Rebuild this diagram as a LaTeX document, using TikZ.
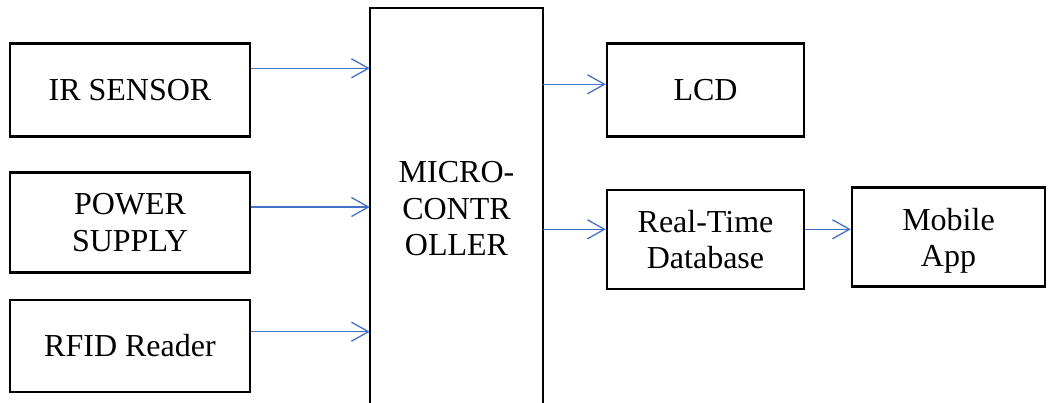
\documentclass[tikz,border=0pt]{standalone}
\usepackage{fontspec}
\setmainfont{Liberation Serif}
\usetikzlibrary{arrows.meta,positioning}
\definecolor{linkblue}{RGB}{68,114,196}
\tikzset{
    block/.style = {draw, rectangle, line width=2.4pt,
        minimum height=93pt,
        minimum width=240pt, inner sep=0pt, align=center,
        font=\fontsize{32}{36.5}\selectfont},
    arrow/.style={draw=linkblue, line width=1.3pt,
        -{Straight Barb[length=17pt,width=19pt]}}
}

\begin{document}
\begin{tikzpicture}[x=1pt, y=-1pt]
    \useasboundingbox (0,0) rectangle (1049,403);
    \node [block] (ir) at (130,90) {IR SENSOR};
    \node [block, minimum height=100pt] (power) at (130,222.7) {POWER\\SUPPLY};
    \node [block, minimum height=92pt] (rfid) at (130,346) {RFID Reader};
    \node [block, draw=none, minimum width=171pt, minimum height=400pt] (mcu) at (456.5,209) {MICRO-\\CONTR\\OLLER};
    \draw [line width=2.4pt] (mcu.south west) |- (mcu.north east) -- (mcu.south east);
    \node [block, minimum width=197pt] (lcd) at (705.5,90) {LCD};
    \node [block, minimum width=197pt, minimum height=99pt] (rtdb) at (705.5,239.7) {Real-Time\\Database};
    \node [block, minimum width=193pt, minimum height=99pt] (app) at (948.5,237.2) {Mobile\\\smash{App}};
    \draw [arrow] ([yshift=21.7pt]ir.east) -- ([yshift=21.7pt]ir.east -| mcu.west);
    \draw [arrow] ([yshift=15.7pt]power.east) -- ([yshift=15.7pt]power.east -| mcu.west);
    \draw [arrow] ([yshift=14.3pt]rfid.east) -- ([yshift=14.3pt]rfid.east -| mcu.west);
    \draw [arrow] ([yshift=5.7pt]lcd.west -| mcu.east) -- ([yshift=5.7pt]lcd.west);
    \draw [arrow] ([yshift=10.4pt]rtdb.west -| mcu.east) -- ([yshift=10.4pt]rtdb.west);
    \draw [arrow] ([yshift=10.4pt]rtdb.east) -- ([yshift=10.4pt]rtdb.east -| app.west);
\end{tikzpicture}
\end{document}
